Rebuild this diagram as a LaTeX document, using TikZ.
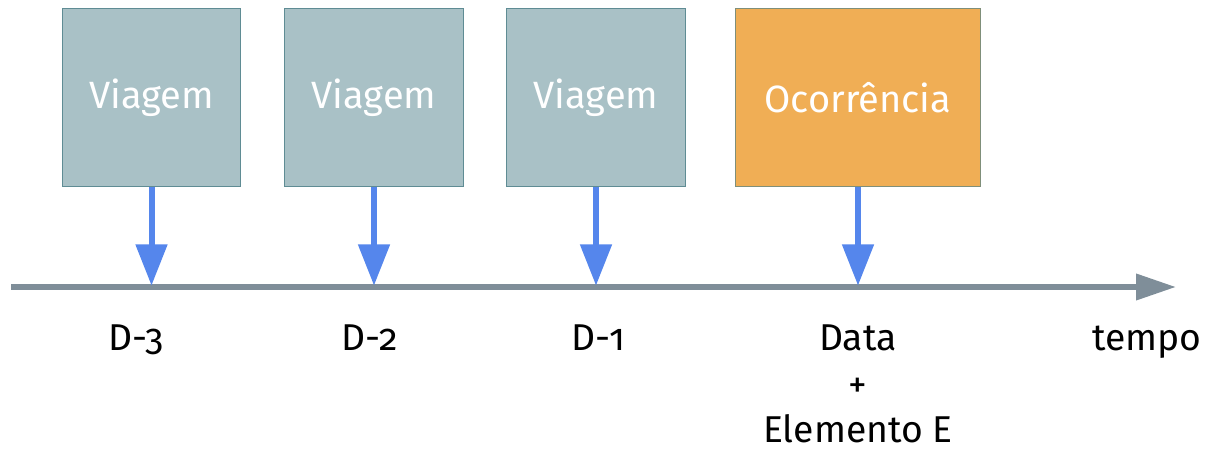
\documentclass[tikz,border=0pt]{standalone}
\usepackage{fontspec}
\setmainfont{Fira Sans}[Numbers=OldStyle]
\usetikzlibrary{arrows.meta}
\definecolor{tripfill}{HTML}{A9C1C6}
\definecolor{tripline}{HTML}{5F8C94}
\definecolor{eventfill}{HTML}{F0AE55}
\definecolor{eventline}{HTML}{7F8F7A}
\definecolor{pointer}{HTML}{5586EC}
\definecolor{axisgray}{HTML}{7F8E99}
\tikzset{
  x=0.75pt, y=-0.75pt,
  card/.style={draw=tripline, line width=0.9pt, fill=tripfill, minimum width=134pt,
    minimum height=134pt, inner sep=0pt, text=white, font=\fontsize{28.5}{32}\selectfont},
  eventcard/.style={card, draw=eventline, fill=eventfill, minimum width=184pt},
  pointerarrow/.style={draw=pointer, line width=4.5pt,
    -{Triangle[length=31pt, width=23pt, fill=pointer]}, shorten >=1pt},
  timeaxis/.style={draw=axisgray, line width=4.5pt,
    -{Triangle[length=30pt, width=19pt, fill=axisgray]}},
  tick/.style={font=\fontsize{28}{32}\selectfont, anchor=base, inner sep=0pt}
}
\begin{document}
\begin{tikzpicture}
\useasboundingbox (0,0) rectangle (1213,450);

% event cards
\node[card] (v1) at (151.5,97.5) {Viagem};
\node[card] (v2) at (374,97.5) {Viagem};
\node[card] (v3) at (596,97.5) {Viagem};
\node[eventcard] (oc) at (858,97.5) {Ocorrência};

% time axis
\coordinate (start) at (11,287);
\coordinate (stop) at (1176,287);
\draw[timeaxis] (start) -- (stop);

% points on the axis
\coordinate (p1) at (151.5,287);
\coordinate (p2) at (374,287);
\coordinate (p3) at (596,287);
\coordinate (p4) at (858,287);

\draw[pointerarrow] (v1.south) -- (p1);
\draw[pointerarrow] (v2.south) -- (p2);
\draw[pointerarrow] (v3.south) -- (p3);
\draw[pointerarrow] (oc.south) -- (p4);

% labels under the axis
\node[tick] (l1) at (136,350) {D-3};
\node[tick] (l2) at (370,350) {D-2};
\node[tick] (l3) at (598,350) {D-1};
\node[tick] (l4) at (858,350) {Data};
\node[tick] (plus) at (858,397) {+};
\node[tick] (elem) at (858,442) {Elemento E};
\node[tick] (tempo) at (1147,350) {tempo};
\end{tikzpicture}
\end{document}
